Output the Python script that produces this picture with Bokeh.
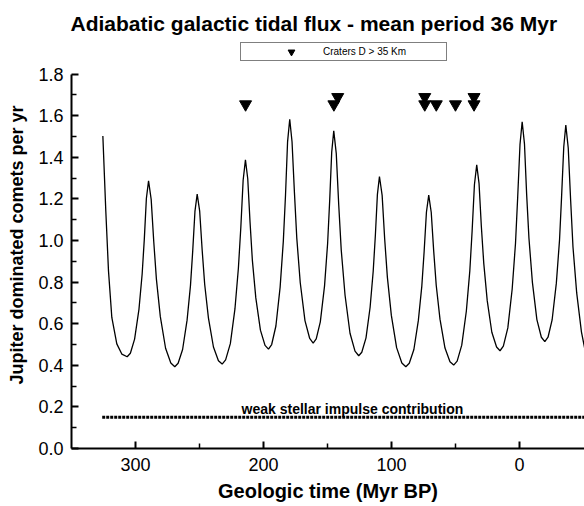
from bokeh.plotting import figure
from bokeh.models import (Range1d, FixedTicker, Legend, LegendItem, Label,
                          NumeralTickFormatter)
from bokeh.embed import file_html
from bokeh.resources import INLINE

# Galactic tidal flux curve (Myr BP, comets per yr)
flux_time = [325.5, 323.2, 321.1, 318.5, 314.6, 310.7, 306.5,
             304.0, 300.7, 297.3, 294.8, 293.1, 291.5, 289.8,
             287.75, 285.7, 283.65, 280.6, 276.5, 272.4, 269.3,
             266.7, 263.2, 259.7, 257.05, 255.3, 253.55, 251.8,
             249.85, 247.9, 245.95, 243.0, 239.1, 235.2, 232.3,
             229.6, 225.9, 222.3, 219.6, 217.7, 215.9, 214.1,
             212.3, 210.5, 208.7, 206.0, 202.4, 198.8, 196.1,
             193.6, 190.3, 187.0, 184.5, 182.8, 181.2, 179.5,
             177.7, 175.8, 174.0, 171.3, 167.6, 163.9, 161.2,
             158.8, 155.6, 152.3, 149.9, 148.3, 146.7, 145.1,
             143.15, 141.2, 139.25, 136.3, 132.4, 128.5, 125.6,
             123.2, 119.9, 116.7, 114.3, 112.6, 111.0, 109.4,
             107.3, 105.3, 103.2, 100.1, 96.0, 91.9, 88.8,
             86.1, 82.5, 79.0, 76.3, 74.5, 72.7, 70.9,
             68.95, 67.0, 65.05, 62.1, 58.2, 54.3, 51.4,
             48.7, 45.1, 41.5, 38.8, 37.0, 35.2, 33.4,
             31.6, 29.8, 27.9, 25.2, 21.6, 17.9, 15.2,
             12.6, 9.1, 5.7, 3.1, 1.4, -0.4, -2.1,
             -3.9, -5.6, -7.4, -10.1, -13.6, -17.1, -19.8,
             -22.3, -25.5, -28.8, -31.3, -32.9, -34.6, -36.2,
             -38.1, -40.0, -41.8, -44.7, -48.4, -51.0]
flux_value = [1.503, 1.142, 0.854, 0.630, 0.503, 0.454, 0.441,
              0.458, 0.526, 0.669, 0.839, 1.008, 1.202, 1.287,
              1.198, 0.992, 0.813, 0.634, 0.482, 0.411, 0.393,
              0.410, 0.476, 0.617, 0.783, 0.949, 1.140, 1.223,
              1.141, 0.953, 0.790, 0.627, 0.488, 0.422, 0.406,
              0.426, 0.504, 0.671, 0.868, 1.064, 1.290, 1.388,
              1.297, 1.088, 0.906, 0.724, 0.569, 0.496, 0.478,
              0.500, 0.589, 0.776, 0.997, 1.218, 1.473, 1.583,
              1.475, 1.228, 1.013, 0.798, 0.615, 0.529, 0.507,
              0.527, 0.609, 0.782, 0.986, 1.190, 1.425, 1.527,
              1.419, 1.170, 0.954, 0.738, 0.554, 0.468, 0.446,
              0.463, 0.532, 0.679, 0.851, 1.024, 1.222, 1.308,
              1.217, 1.006, 0.823, 0.640, 0.485, 0.411, 0.393,
              0.410, 0.476, 0.616, 0.781, 0.946, 1.136, 1.218,
              1.136, 0.948, 0.785, 0.622, 0.483, 0.417, 0.401,
              0.420, 0.497, 0.661, 0.854, 1.046, 1.268, 1.364,
              1.275, 1.069, 0.890, 0.711, 0.559, 0.488, 0.470,
              0.492, 0.580, 0.767, 0.987, 1.208, 1.461, 1.571,
              1.465, 1.222, 1.011, 0.799, 0.620, 0.535, 0.514,
              0.535, 0.618, 0.795, 1.003, 1.211, 1.451, 1.555,
              1.445, 1.190, 0.969, 0.748, 0.561, 0.480]

# Weak stellar impulse contribution (constant level)
stellar_time = [326.0, -51.0]
stellar_value = [0.15, 0.15]

# Craters D > 35 km (age Myr, plotted level)
crater_age = [214.0, 145.0, 142.0, 74.0, 74.0, 65.0, 50.0, 35.5, 35.5]
crater_level = [1.655, 1.655, 1.69, 1.69, 1.655, 1.655, 1.655, 1.69, 1.655]

x_ticks = [300, 200, 100, 0]
x_minor = [250, 150, 50]
y_ticks = [0.0, 0.2, 0.4, 0.6, 0.8, 1.0, 1.2, 1.4, 1.6, 1.8]
y_minor = [0.1, 0.3, 0.5, 0.7, 0.9, 1.1, 1.3, 1.5, 1.7]

FONT = "Liberation Sans"

p = figure(width=584, height=506, output_backend="svg", toolbar_location=None,
           x_range=Range1d(350, -50.8), y_range=Range1d(0, 1.957),
           min_border_left=71, min_border_right=0, min_border_top=41,
           min_border_bottom=58)
p.outline_line_color = None
p.grid.visible = False
p.background_fill_color = "white"
p.border_fill_color = "white"

p.title.text = "Adiabatic galactic tidal flux - mean period 36 Myr"
p.title.text_font = FONT
p.title.text_font_size = "21px"
p.title.text_font_style = "bold"
p.title.text_color = "black"
p.title.align = "left"
p.title.offset = -1
p.title.standoff = 13

for ax in (p.xaxis[0], p.yaxis[0]):
    ax.axis_line_width = 2
    ax.axis_line_color = "black"
    ax.major_tick_in = 7
    ax.major_tick_out = 0
    ax.minor_tick_in = 5
    ax.minor_tick_out = 0
    ax.major_tick_line_width = 2
    ax.minor_tick_line_width = 1.5
    ax.major_tick_line_color = "black"
    ax.minor_tick_line_color = "black"
    ax.major_label_text_font = FONT
    ax.major_label_text_font_size = "18px"
    ax.major_label_text_color = "black"
    ax.axis_label_text_font = FONT
    ax.axis_label_text_font_style = "bold"
    ax.axis_label_text_color = "black"

p.xaxis[0].ticker = FixedTicker(ticks=x_ticks, minor_ticks=x_minor)
p.xaxis[0].axis_label = "Geologic time (Myr BP)"
p.xaxis[0].axis_label_text_font_size = "20px"
p.xaxis[0].major_label_standoff = 9
p.xaxis[0].axis_label_standoff = 6

p.yaxis[0].ticker = FixedTicker(ticks=y_ticks, minor_ticks=y_minor)
p.yaxis[0].bounds = (0, 1.8)
p.yaxis[0].formatter = NumeralTickFormatter(format="0.0")
p.yaxis[0].axis_label = "Jupiter dominated comets per yr"
p.yaxis[0].axis_label_text_font_size = "18px"
p.yaxis[0].major_label_standoff = 8
p.yaxis[0].axis_label_standoff = 8

p.line(flux_time, flux_value, line_color="black", line_width=1.3)
p.line(stellar_time, stellar_value, line_color="black", line_width=3, line_dash="3 1")

craters = p.scatter(crater_age, crater_level, marker="inverted_triangle", size=12,
                    fill_color="black", line_color="black")

p.add_layout(Label(x=130.5, y=0.19, text="weak stellar impulse contribution",
                   text_align="center", text_baseline="alphabetic",
                   text_font=FONT, text_font_style="bold", text_font_size="14px",
                   text_color="black"))

legend = Legend(items=[LegendItem(label="Craters D > 35 Km", renderers=[craters])],
                location=(169, 387), margin=0,
                padding=dict(left=40, right=23, top=0, bottom=0),
                glyph_width=20, glyph_height=17, label_height=17,
                label_standoff=22, label_width=100, spacing=0,
                label_text_font=FONT, label_text_font_size="10px",
                label_text_color="black",
                border_line_color="black", border_line_width=1,
                background_fill_color="white", background_fill_alpha=1)
p.add_layout(legend, "center")

open("out.html", "w").write(file_html(p, INLINE))
